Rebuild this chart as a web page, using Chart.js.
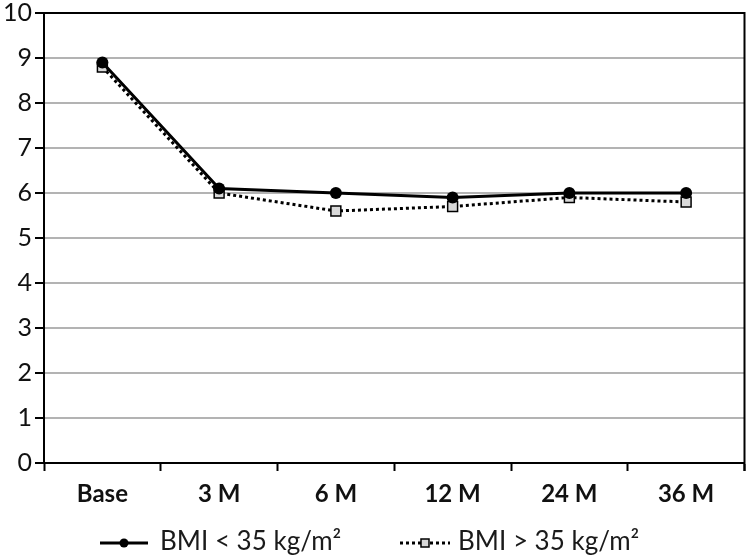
<!DOCTYPE html>
<html>
<head>
<meta charset="utf-8">
<script src="https://cdn.jsdelivr.net/npm/chart.js@4.4.1/dist/chart.umd.min.js"></script>
<style>
  html, body { margin: 0; padding: 0; background: #fff; }
  #wrap { width: 753px; height: 556px; position: relative; }
  #bmiChart { position: absolute; left: 0; top: 0; }
  .lg { position: absolute; top: 524px; height: 32px; font-family: Lato, 'DejaVu Sans', sans-serif; font-size: 26px; color: #1a1a1a; line-height: 32px; white-space: nowrap; }
  .lg canvas { vertical-align: middle; }
</style>
</head>
<body>
<div id="wrap">
	<canvas id="bmiChart" width="753" height="556"></canvas>
	<div class="lg" id="lg0" style="left:100px"></div>
	<div class="lg" id="lg1" style="left:400px"></div>
</div>
<script>
// values
const timepoints = ['Base', '3 M', '6 M', '12 M', '24 M', '36 M'];
const bmiUnder35 = [8.9, 6.1, 6.0, 5.9, 6.0, 6.0];
const bmiOver35 = [8.8, 6.0, 5.6, 5.7, 5.9, 5.8];
const seriesNames = ['BMI < 35 kg/m\u00B2', 'BMI > 35 kg/m\u00B2'];
const yTicks = [0, 1, 2, 3, 4, 5, 6, 7, 8, 9, 10];

const FONT = "Lato, 'DejaVu Sans', sans-serif";

// legend sample: short line with the marker in the middle
function legendSample(dashed, w){
	let c = document.createElement('canvas');
	c.width = w; c.height = 16;
	let g = c.getContext('2d');
	g.strokeStyle = '#000';
	g.lineWidth = 3;
	if (dashed) g.setLineDash([3, 3]);
	g.beginPath(); g.moveTo(0, 8); g.lineTo(w, 8); g.stroke();
	g.setLineDash([]);
	if (dashed){
		g.fillStyle = '#d9d9d9';
		g.fillRect(w / 2 - 4, 4, 8, 8);
		g.lineWidth = 1.5;
		g.strokeRect(w / 2 - 4, 4, 8, 8);
	} else {
		g.fillStyle = '#000';
		g.beginPath(); g.arc(w / 2, 8, 4.5, 0, Math.PI * 2); g.fill();
	}
	return c;
}

function build_legend(){
	let gaps = [12, 8];
	let widths = [48, 50];
	seriesNames.forEach((name, i) => {
		let box = document.getElementById('lg' + i);
		let c = legendSample(i === 1, widths[i]);
		c.style.marginRight = gaps[i] + 'px';
		box.appendChild(c);
		let span = document.createElement('span');
		span.textContent = name;
		box.appendChild(span);
	});
}

// top and right border of the plot area
const frame = {
	id: 'frame',
	afterDraw(chart){
		let a = chart.chartArea, ctx = chart.ctx;
		ctx.save();
		ctx.strokeStyle = '#000';
		ctx.lineWidth = 2;
		ctx.beginPath();
		ctx.moveTo(a.left, a.top);
		ctx.lineTo(a.right, a.top);
		ctx.lineTo(a.right, a.bottom + 8);
		ctx.stroke();
		ctx.restore();
	}
};

let ctx = document.getElementById('bmiChart').getContext('2d');
let myChart = new Chart(ctx, {
	type: 'line',
	data: {
		labels: timepoints,
		datasets: [
			{
				label: seriesNames[0],
				data: bmiUnder35,
				borderColor: '#000',
				backgroundColor: '#000',
				borderWidth: 3,
				pointStyle: 'circle',
				pointRadius: 6,
				pointBorderWidth: 0,
				tension: 0,
			},
			{
				label: seriesNames[1],
				data: bmiOver35,
				borderColor: '#000',
				backgroundColor: '#d9d9d9',
				borderWidth: 3,
				borderDash: [3, 3],
				pointStyle: 'rect',
				pointRadius: 7,
				pointBorderWidth: 1.5,
				tension: 0,
			},
		]
	},
	options: {
		responsive: false,
		animation: false,
		layout: { padding: { top: 0, right: 2, left: 0, bottom: 41 } },
		plugins: {
			tooltip: { enabled: false },
			legend: { display: false }
		},
		scales: {
			x: {
				offset: true,
				grid: {
					offset: true,
					drawOnChartArea: false,
					drawTicks: true,
					tickLength: 8,
					tickColor: '#000',
					tickWidth: 2,
				},
				border: { color: '#000', width: 2 },
				ticks: {
					color: '#111',
					padding: 9,
					font: { family: FONT, size: 24, weight: 'bold' },
				},
				afterFit(scale){ scale.height = 52; }
			},
			y: {
				min: 0,
				max: 10,
				afterBuildTicks(scale){ scale.ticks = yTicks.map(v => ({ value: v })); },
				grid: {
					color: c => c.tick && c.tick.value === 10 ? '#000' : '#b3b3b3',
					lineWidth: 2,
					tickLength: 9,
					tickColor: '#000',
					tickWidth: 2,
				},
				border: { color: '#000', width: 2 },
				ticks: {
					color: '#111',
					padding: 3,
					font: { family: FONT, size: 25, lineHeight: 0.8 },
				},
				afterFit(scale){ scale.width = 44; }
			}
		}
	},
	plugins: [frame]
});
build_legend();
</script>
</body>
</html>
